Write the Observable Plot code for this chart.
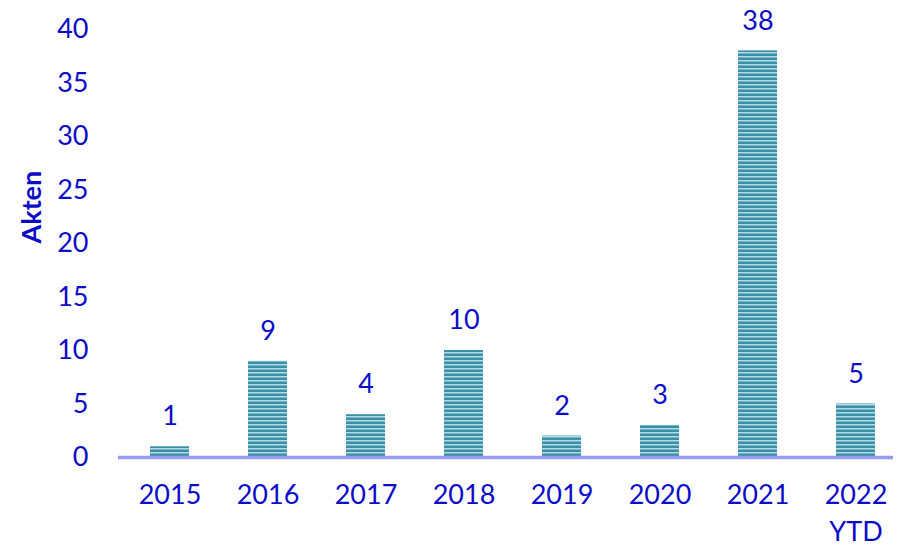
<!DOCTYPE html>
<html>
<head>
<meta charset="utf-8">
<script src="https://cdn.jsdelivr.net/npm/d3@7"></script>
<script src="https://cdn.jsdelivr.net/npm/@observablehq/plot@0.6"></script>
<style>
  html, body { margin: 0; padding: 0; background: #fff; }
  #chart { width: 897px; height: 550px; }
</style>
</head>
<body>
<div id="chart"></div>
<script>
const years = ["2015", "2016", "2017", "2018", "2019", "2020", "2021", "2022\nYTD"];
const counts = [1, 9, 4, 10, 2, 3, 38, 5];
const yTicks = [0, 5, 10, 15, 20, 25, 30, 35, 40];
const yLabel = "Akten";

const data = years.map((y, i) => ({year: y, value: counts[i]}));
const blue = "#0c0cc8";
const font = "Lato, 'Open Sans', sans-serif";
const fs = 27;

const chart = Plot.plot({
  width: 897,
  height: 550,
  marginTop: 29,
  marginBottom: 93,
  marginLeft: 118,
  marginRight: 4,
  style: {fontFamily: font, fontSize: fs + "px", color: blue, background: "#fff"},
  x: {domain: years, range: [118.5, 906.5], paddingInner: 0.605, paddingOuter: 0.3025, label: null},
  y: {domain: [0, 40], ticks: yTicks, label: null},
  axis: null,
  marks: [
    Plot.barY(data, {x: "year", y: "value", fill: "url(#stripes)"}),
    Plot.ruleY([0], {stroke: "#9a9af5", strokeWidth: 3.5}),
    Plot.text(data, {x: "year", y: "value", text: d => String(d.value), dy: -30, fill: blue, fontSize: fs}),
    Plot.axisY({ticks: yTicks, tickSize: 0, tickPadding: 0, dx: -30, fill: blue, fontSize: fs, label: null}),
    Plot.axisX({tickSize: 0, tickPadding: 0, dy: 20, fill: blue, fontSize: fs, label: null, lineHeight: 1.38, lineAnchor: "top"}),
    Plot.text([yLabel], {frameAnchor: "left", dx: -86, dy: 0, rotate: -90, fontWeight: "bold", fill: blue, fontSize: fs})
  ]
});

// stripe pattern definitions
const ns = "http://www.w3.org/2000/svg";
const defs = document.createElementNS(ns, "defs");
defs.innerHTML = `
  <pattern id="stripes" patternUnits="userSpaceOnUse" x="0" y="0" width="8" height="4">
    <rect x="0" y="0" width="8" height="4" fill="#b3dbe6"/>
    <rect x="0" y="1.5" width="8" height="2.5" fill="#3b8fa7"/>
  </pattern>`;
chart.insertBefore(defs, chart.firstChild);

document.getElementById("chart").appendChild(chart);
</script>
</body>
</html>
